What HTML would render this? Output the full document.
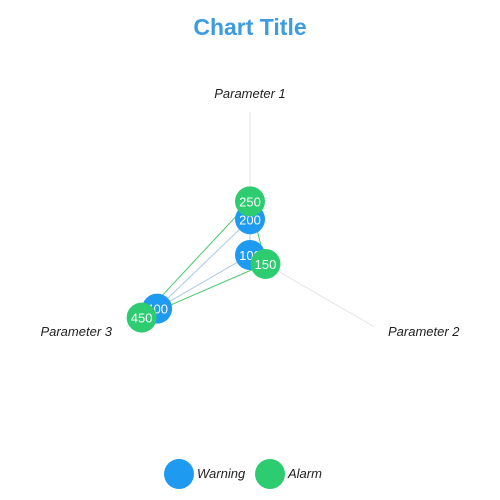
<!DOCTYPE html>
<html><head><meta charset="utf-8"><style>
body{margin:0;background:#fff;}
svg{display:block;font-family:"Liberation Sans",sans-serif;}
</style></head><body>
<svg id="chart" width="500" height="500">
<text x="250" y="35" text-anchor="middle" font-size="23" font-weight="bold" fill="#3d9be0">Chart Title</text>
<g id="axes"></g><g id="series"></g>
<g>
<circle cx="179" cy="474" r="15" fill="#1e9af0"/>
<text x="197" y="478" font-size="13" font-style="italic" fill="#222">Warning</text>
<circle cx="270" cy="474" r="15" fill="#2ecc71"/>
<text x="288" y="478" font-size="13" font-style="italic" fill="#222">Alarm</text>
</g>
</svg>
<script>
const categories=["Parameter 1","Parameter 2","Parameter 3"];
const warningValues=[200,100,400];
const alarmValues=[250,150,450];
const scaleMin=100, scaleMax=500;
const cx=250, cy=255, R=143;
const NS="http://www.w3.org/2000/svg";
function ang(i){return -Math.PI/2+i*2*Math.PI/categories.length;}
function pt(i,v){const d=R*(v-scaleMin)/(scaleMax-scaleMin);return [cx+d*Math.cos(ang(i)),cy+d*Math.sin(ang(i))];}
function mk(t,a){const e=document.createElementNS(NS,t);for(const k in a)e.setAttribute(k,a[k]);return e;}
const axes=document.getElementById('axes');
const labelPos=[[250,98,"middle"],[388,336,"start"],[112,336,"end"]];
categories.forEach((c,i)=>{
  const p=pt(i,scaleMax);
  const l=mk('line',{x1:cx,y1:cy,x2:p[0],y2:p[1],stroke:'#e3e3e3','stroke-width':1});
  
  
  axes.appendChild(l);
  const t=mk('text',{x:labelPos[i][0],y:labelPos[i][1],'text-anchor':labelPos[i][2],'font-size':13,'font-style':'italic',fill:'#222'});
  t.textContent=c;
  
  
  axes.appendChild(t);
});
const sg=document.getElementById('series');
function drawSeries(vals,color,lineColor,name){
  const pts=vals.map((v,i)=>pt(i,v));
  const poly=mk('polygon',{points:pts.map(p=>p.join(',')).join(' '),fill:'none',stroke:lineColor,'stroke-width':1});
  
  
  sg.appendChild(poly);
  return pts;
}
function drawPoints(vals,pts,color,name){
  pts.forEach((p,i)=>{
    const c=mk('circle',{cx:p[0],cy:p[1],r:15,fill:color});
    
    
    sg.appendChild(c);
    const t=mk('text',{x:p[0],y:p[1]+5,'text-anchor':'middle','font-size':13,fill:'#fff'});
    t.textContent=vals[i];
    
    
    sg.appendChild(t);
  });
}
const wp=drawSeries(warningValues,'#1e9af0','#a9c9e6','warning');
const ap=drawSeries(alarmValues,'#2ecc71','#46c96f','alarm');
drawPoints(warningValues,wp,'#1e9af0','warning');
drawPoints(alarmValues,ap,'#2ecc71','alarm');
</script>
</body></html>
